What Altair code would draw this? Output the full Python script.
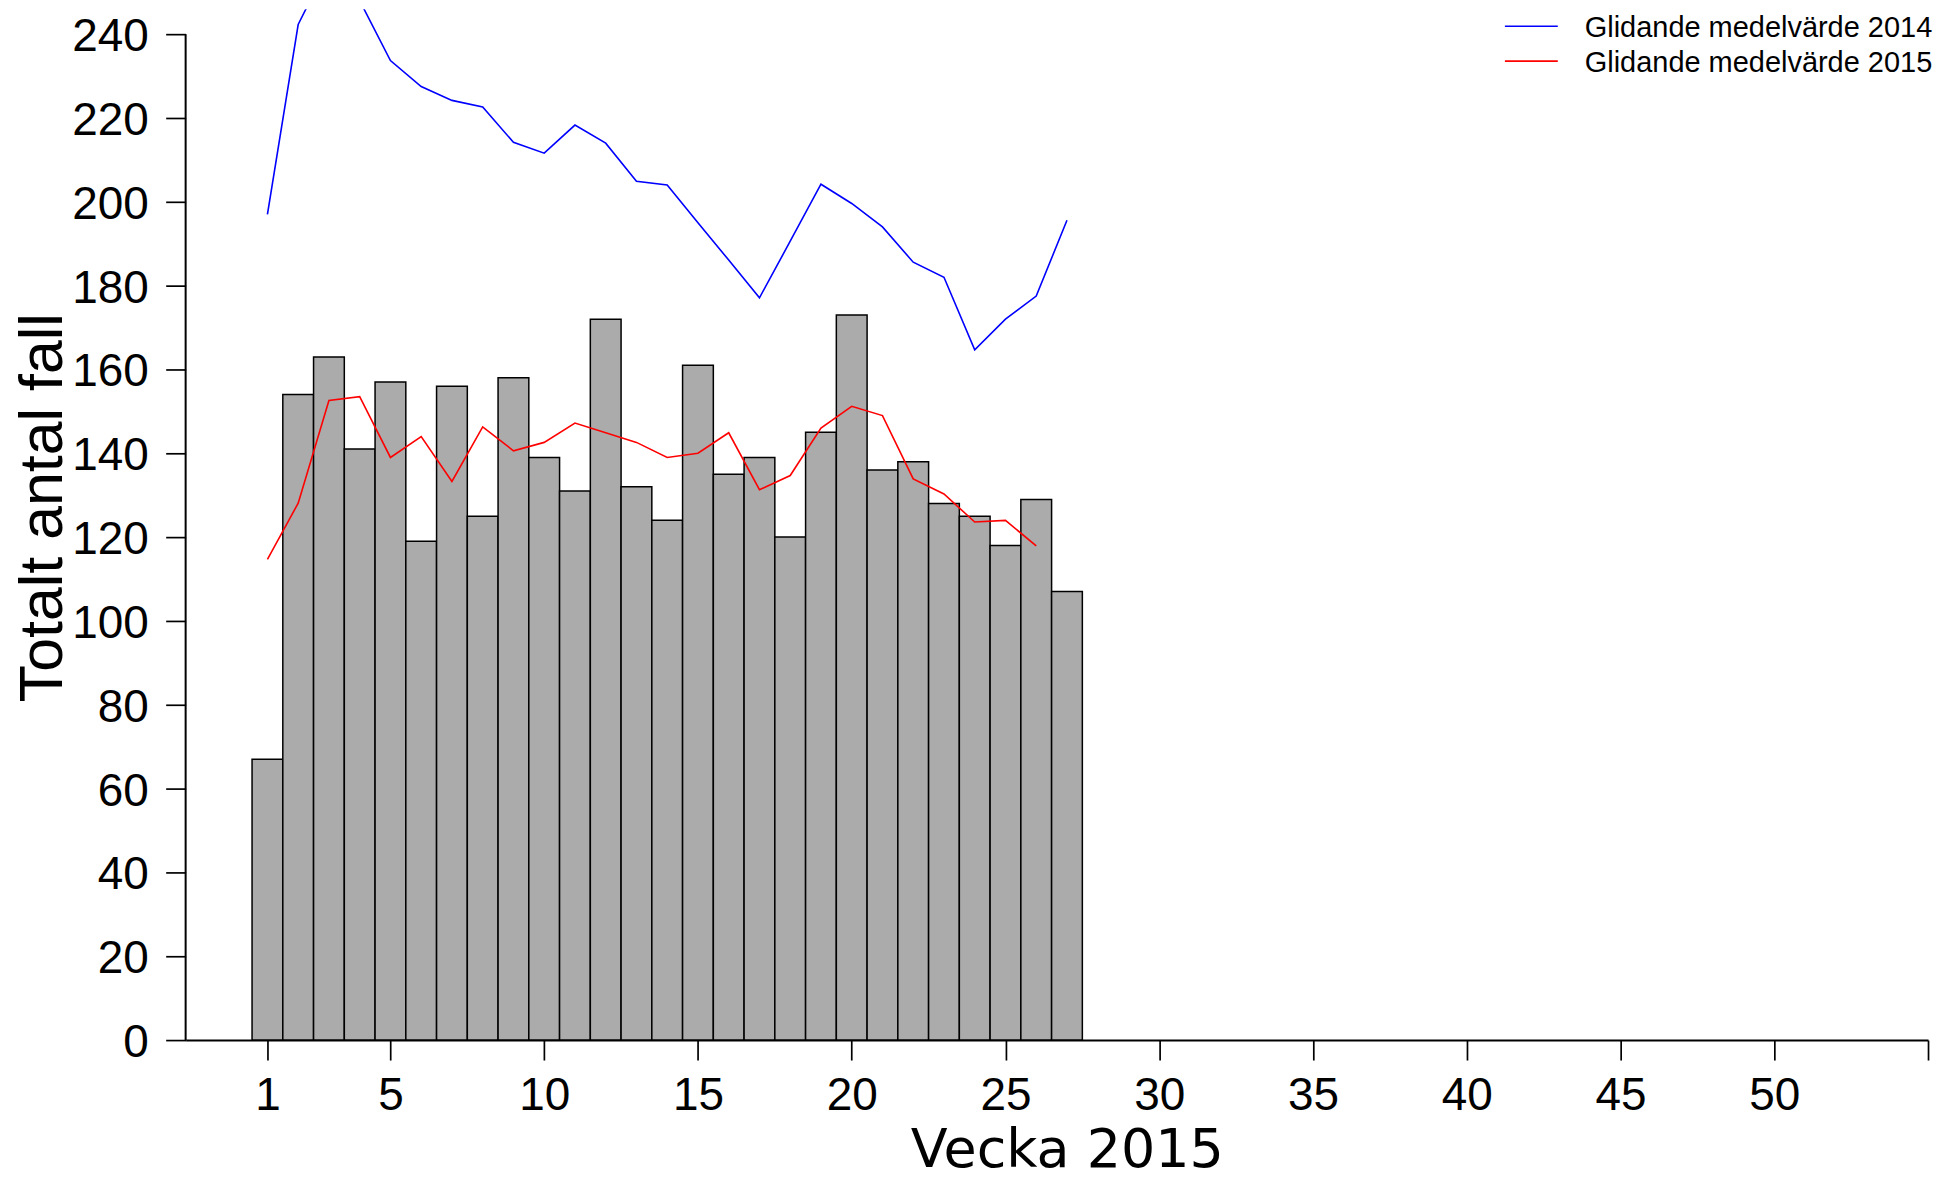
import altair as alt
import pandas as pd

# ---- data ----
weeks = list(range(1, 28))
cases_2015 = [67, 154, 163, 141, 157, 119, 156, 125, 158, 139, 131, 172, 132, 124,
              161, 135, 139, 120, 145, 173, 136, 138, 128, 125, 118, 129, 107]
ma_2014 = [197.0, 242.3, 257.0, 248.0, 233.7, 227.5, 224.2, 222.6, 214.2, 211.6,
           218.3, 214.0, 204.9, 204.0, 195.0, 186.1, 177.1, 190.6, 204.2, 199.6,
           194.0, 185.6, 182.0, 164.7, 172.0, 177.5, 195.6]
ma_2015 = [114.7, 128.1, 152.6, 153.5, 139.0, 144.0, 133.3, 146.3, 140.6, 142.6,
           147.2, 144.9, 142.6, 139.0, 140.0, 144.9, 131.3, 134.7, 146.0, 151.2,
           149.0, 133.9, 130.3, 123.6, 124.0, 117.9]
x_ticks = [1, 5, 10, 15, 20, 25, 30, 35, 40, 45, 50, 55]
y_ticks = list(range(0, 241, 20))
legend_labels = ["Glidande medelvärde 2014", "Glidande medelvärde 2015"]
line_colors = ["#0000FF", "#FF0000"]

bars_df = pd.DataFrame({"week": weeks, "cases": cases_2015})
lines_df = pd.concat([
    pd.DataFrame({"week": weeks[:len(ma_2014)], "value": ma_2014, "series": legend_labels[0]}),
    pd.DataFrame({"week": weeks[:len(ma_2015)], "value": ma_2015, "series": legend_labels[1]}),
])

FONT = "Liberation Sans"
W, H = 1746, 1033

xscale = alt.Scale(domain=[-1.66, 55.0], nice=False, zero=False)
yscale = alt.Scale(domain=[0, 245.95], nice=False, zero=True)

xaxis = alt.Axis(
    values=x_ticks, labelExpr="datum.value == 55 ? '' : datum.label",
    tickSize=20, tickWidth=1.7, tickColor="black", domainWidth=2, domainColor="black",
    labelFont=FONT, labelFontSize=46, labelColor="black", labelPadding=14,
    labelOverlap=False, labelFlush=False, grid=False,
    title="Vecka 2015", titleFont="DejaVu Sans", titleFontSize=54,
    titleFontWeight="normal", titleColor="black",
    titleX=883, titleY=127, titleBaseline="alphabetic", titleAlign="center",
)
yaxis = alt.Axis(
    values=y_ticks, tickSize=20, tickWidth=1.7, tickColor="black", domain=False,
    labelFont=FONT, labelFontSize=46, labelColor="black", labelPadding=17.5,
    labelOffset=2.5, labelOverlap=False, labelFlush=False, grid=False,
    title="Totalt antal fall", titleFont=FONT, titleFontSize=61,
    titleFontWeight="normal", titleColor="black", titleAngle=270,
    titleX=-124.3, titleY=499, titleBaseline="alphabetic", titleAlign="center",
)

bars = alt.Chart(bars_df).transform_calculate(
    start="datum.week - 0.5", end="datum.week + 0.5"
).mark_bar(fill="#ABABAB", stroke="black", strokeWidth=1.5).encode(
    x=alt.X("start:Q", scale=xscale, axis=xaxis),
    x2="end:Q",
    y=alt.Y("cases:Q", scale=yscale, axis=yaxis),
    y2=alt.datum(0),
)

lines = alt.Chart(lines_df).mark_line(clip=True, strokeWidth=1.6).encode(
    x=alt.X("week:Q", scale=xscale),
    y=alt.Y("value:Q", scale=yscale),
    color=alt.Color("series:N", scale=alt.Scale(domain=legend_labels, range=line_colors),
                    legend=None),
)

yline = alt.Chart(pd.DataFrame({"y0": [y_ticks[0]], "y1": [y_ticks[-1]]})).mark_rule(
    color="black", strokeWidth=2
).encode(x=alt.value(0), y=alt.Y("y0:Q", scale=yscale), y2="y1:Q")

# manual legend (top right)
legend_layers = []
for i, (lab, col) in enumerate(zip(legend_labels, line_colors)):
    d = pd.DataFrame({"label": [lab]})
    legend_layers.append(
        alt.Chart(d).mark_rule(color=col, strokeWidth=1.6).encode(
            x=alt.value(1322), x2=alt.value(1375), y=alt.value(17 + 35 * i)
        )
    )
    legend_layers.append(
        alt.Chart(d).mark_text(align="left", baseline="alphabetic", font=FONT,
                               fontSize=29, color="black").encode(
            x=alt.value(1402), y=alt.value(28 + 35 * i), text="label:N"
        )
    )

chart = alt.layer(bars, lines, yline, *legend_layers).properties(
    width=W, height=H,
    autosize=alt.AutoSizeParams(type="none"),
    padding={"left": 178, "top": 0, "right": 10, "bottom": 140},
    background="white",
).configure_view(stroke=None)

chart.save("out.html", embed_options={"renderer": "svg", "actions": False})
